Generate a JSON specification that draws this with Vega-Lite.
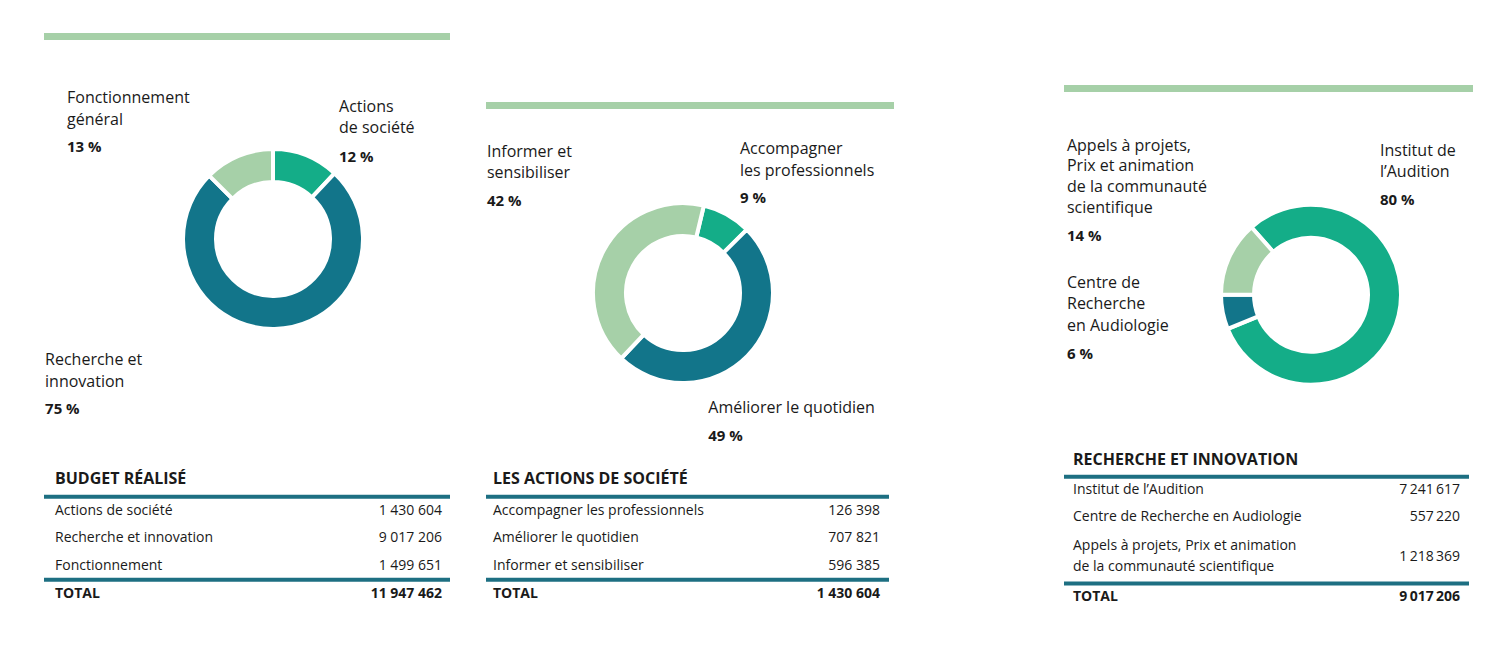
{
  "$schema": "https://vega.github.io/schema/vega-lite/v6.json",
  "background": "#ffffff",
  "padding": {"left": 42, "top": 0, "right": 0, "bottom": 0},
  "config": {"view": {"stroke": null}, "font": "Open Sans", "text": {"font": "Open Sans"}},
  "datasets": {
    "p1": [
      {"name": "Actions de société", "label": "Actions\nde société", "pct": "12 %", "value": 1430604, "display": "1 430 604"},
      {"name": "Recherche et innovation", "label": "Recherche et\ninnovation", "pct": "75 %", "value": 9017206, "display": "9 017 206"},
      {"name": "Fonctionnement", "label": "Fonctionnement\ngénéral", "pct": "13 %", "value": 1499651, "display": "1 499 651"},
      {"name": "TOTAL", "display": "11 947 462"}
    ],
    "p2": [
      {"name": "Accompagner les professionnels", "label": "Accompagner\nles professionnels", "pct": "9 %", "value": 126398, "display": "126 398"},
      {"name": "Améliorer le quotidien", "label": "Améliorer le quotidien", "pct": "49 %", "value": 707821, "display": "707 821"},
      {"name": "Informer et sensibiliser", "label": "Informer et\nsensibiliser", "pct": "42 %", "value": 596385, "display": "596 385"},
      {"name": "TOTAL", "display": "1 430 604"}
    ],
    "p3": [
      {"name": "Institut de l’Audition", "label": "Institut de\nl’Audition", "pct": "80 %", "value": 7241617, "display": "7\u2009241\u2009617"},
      {"name": "Centre de Recherche en Audiologie", "label": "Centre de\nRecherche\nen Audiologie", "pct": "6 %", "value": 557220, "display": "557\u2009220"},
      {"name": "Appels à projets, Prix et animation\nde la communauté scientifique", "label": "Appels à projets,\nPrix et animation\nde la communauté\nscientifique", "pct": "14 %", "value": 1218369, "display": "1\u2009218\u2009369"},
      {"name": "TOTAL", "display": "9\u2009017\u2009206"}
    ]
  },
  "spacing": 168,
  "resolve": {"scale": {"color": "independent", "theta": "independent", "x": "independent", "y": "independent"}, "legend": {"color": "independent"}},
  "hconcat": [
    {
      "spacing": 32,
      "resolve": {"scale": {"color": "independent", "theta": "independent", "x": "independent", "y": "independent"}, "legend": {"color": "independent"}},
      "hconcat": [
        {
          "spacing": 0,
          "resolve": {"scale": {"color": "independent", "theta": "independent", "x": "independent", "y": "independent"}, "legend": {"color": "independent"}},
          "vconcat": [
            {"width": 1, "height": 33, "data": {"values": []}, "mark": "point"},
            {"width": 406, "height": 7, "data": {"values": [{}]}, "mark": {"type": "rect", "color": "#a6d0a8"},
             "encoding": {"x": {"datum": 0, "type": "quantitative", "scale": {"domain": [0, 1]}, "axis": null}, "x2": {"datum": 1},
                          "y": {"datum": 0, "type": "quantitative", "scale": {"domain": [0, 1]}, "axis": null}, "y2": {"datum": 1}}},
            {
              "bounds": "flush", "spacing": 0,
              "resolve": {"scale": {"color": "independent", "theta": "independent"}, "legend": {"color": "independent"}},
              "hconcat": [
                {"width": 79, "height": 1, "data": {"values": []}, "mark": "point"},
                {
                  "width": 300, "height": 398,
                  "data": {"name": "p1"},
                  "transform": [{"filter": "datum.name !== 'TOTAL'"}, {"window": [{"op": "row_number", "as": "ord"}]}, {"stack": "value", "groupby": [], "sort": [{"field": "ord", "order": "ascending"}], "as": ["v0", "v1"]}],
                  "encoding": {"theta": {"field": "v1", "type": "quantitative", "stack": null, "scale": {"range": [0, 6.283185], "nice": false, "zero": true}}},
                  "layer": [
                    {"mark": {"type": "arc", "outerRadius": 90, "innerRadius": 57, "stroke": "#ffffff", "strokeWidth": 4},
                     "encoding": {"theta2": {"field": "v0"}, "color": {"field": "name", "type": "nominal", "scale": {"domain": ["Actions de société", "Recherche et innovation", "Fonctionnement"], "range": ["#14ad88", "#12758a", "#a6d0a8"]}, "legend": null}}},
                    {"transform": [{"filter": "datum.ord === 1"}], "mark": {"type": "text", "radius": 100, "align": "left", "baseline": "alphabetic", "dx": -2.3, "dy": -54, "lineBreak": "\n", "lineHeight": 21.5, "fontSize": 16, "color": "#1a1a1a"}, "encoding": {"text": {"field": "label", "type": "nominal"}}},
                    {"transform": [{"filter": "datum.ord === 1"}], "mark": {"type": "text", "radius": 100, "align": "left", "baseline": "alphabetic", "dx": -2.3, "dy": -4.3, "fontSize": 15, "fontWeight": "bold", "color": "#1a1a1a"}, "encoding": {"text": {"field": "pct", "type": "nominal"}}},
                    {"transform": [{"filter": "datum.ord === 2"}], "mark": {"type": "text", "radius": 100, "align": "left", "baseline": "alphabetic", "dx": -157, "dy": 196.5, "lineBreak": "\n", "lineHeight": 21.5, "fontSize": 16, "color": "#1a1a1a"}, "encoding": {"text": {"field": "label", "type": "nominal"}}},
                    {"transform": [{"filter": "datum.ord === 2"}], "mark": {"type": "text", "radius": 100, "align": "left", "baseline": "alphabetic", "dx": -157, "dy": 245.8, "fontSize": 15, "fontWeight": "bold", "color": "#1a1a1a"}, "encoding": {"text": {"field": "pct", "type": "nominal"}}},
                    {"transform": [{"filter": "datum.ord === 3"}], "mark": {"type": "text", "radius": 100, "align": "left", "baseline": "alphabetic", "dx": -206, "dy": -35.7, "lineBreak": "\n", "lineHeight": 21.5, "fontSize": 16, "color": "#1a1a1a"}, "encoding": {"text": {"field": "label", "type": "nominal"}}},
                    {"transform": [{"filter": "datum.ord === 3"}], "mark": {"type": "text", "radius": 100, "align": "left", "baseline": "alphabetic", "dx": -206, "dy": 13.3, "fontSize": 15, "fontWeight": "bold", "color": "#1a1a1a"}, "encoding": {"text": {"field": "pct", "type": "nominal"}}}
                  ]
                }
              ]
            },
            {"width": 1, "height": 30.95, "data": {"values": []}, "mark": "point"},
            {
              "width": 406, "height": 138.5,
              "layer": [
                {"data": {"values": [{"name": "_title", "title": "BUDGET RÉALISÉ"}]},
                 "mark": {"type": "text", "align": "left", "baseline": "middle", "dx": 11, "dy": -4, "fontSize": 16, "fontWeight": "bold", "color": "#1a1a1a"},
                 "encoding": {"y": {"field": "name", "type": "nominal", "scale": {"domain": ["_title", "Actions de société", "Recherche et innovation", "Fonctionnement", "TOTAL"], "paddingInner": 0, "paddingOuter": 0}, "axis": null},
                              "x": {"datum": 0, "type": "quantitative", "scale": {"domain": [0, 1]}, "axis": null}, "text": {"field": "title", "type": "nominal"}}},
                {"data": {"name": "p1"}, "transform": [{"filter": "datum.name === 'TOTAL' || datum.name === 'Actions de société'"}],
                 "mark": {"type": "rule", "color": "#1d6f82", "strokeWidth": 4},
                 "encoding": {"y": {"field": "name", "type": "nominal", "bandPosition": 0, "scale": {"domain": ["_title", "Actions de société", "Recherche et innovation", "Fonctionnement", "TOTAL"], "paddingInner": 0, "paddingOuter": 0}, "axis": null},
                              "x": {"datum": 0, "type": "quantitative", "scale": {"domain": [0, 1]}, "axis": null}, "x2": {"datum": 1}}},
                {"data": {"name": "p1"}, "transform": [{"filter": "datum.name !== 'TOTAL'"}],
                 "mark": {"type": "text", "align": "left", "baseline": "middle", "dx": 11, "fontSize": 14, "color": "#1a1a1a"},
                 "encoding": {"y": {"field": "name", "type": "nominal", "scale": {"domain": ["_title", "Actions de société", "Recherche et innovation", "Fonctionnement", "TOTAL"], "paddingInner": 0, "paddingOuter": 0}, "axis": null},
                              "x": {"datum": 0, "type": "quantitative", "scale": {"domain": [0, 1]}, "axis": null}, "text": {"field": "name", "type": "nominal"}}},
                {"data": {"name": "p1"}, "transform": [{"filter": "datum.name !== 'TOTAL'"}],
                 "mark": {"type": "text", "align": "right", "baseline": "middle", "dx": -8, "fontSize": 14, "color": "#1a1a1a"},
                 "encoding": {"y": {"field": "name", "type": "nominal", "scale": {"domain": ["_title", "Actions de société", "Recherche et innovation", "Fonctionnement", "TOTAL"], "paddingInner": 0, "paddingOuter": 0}, "axis": null},
                              "x": {"datum": 1, "type": "quantitative", "scale": {"domain": [0, 1]}, "axis": null}, "text": {"field": "display", "type": "nominal"}}},
                {"data": {"name": "p1"}, "transform": [{"filter": "datum.name === 'TOTAL'"}],
                 "mark": {"type": "text", "align": "left", "baseline": "middle", "dx": 11, "fontSize": 14, "fontWeight": "bold", "color": "#1a1a1a"},
                 "encoding": {"y": {"field": "name", "type": "nominal", "scale": {"domain": ["_title", "Actions de société", "Recherche et innovation", "Fonctionnement", "TOTAL"], "paddingInner": 0, "paddingOuter": 0}, "axis": null},
                              "x": {"datum": 0, "type": "quantitative", "scale": {"domain": [0, 1]}, "axis": null}, "text": {"field": "name", "type": "nominal"}}},
                {"data": {"name": "p1"}, "transform": [{"filter": "datum.name === 'TOTAL'"}],
                 "mark": {"type": "text", "align": "right", "baseline": "middle", "dx": -8, "fontSize": 14, "fontWeight": "bold", "color": "#1a1a1a"},
                 "encoding": {"y": {"field": "name", "type": "nominal", "scale": {"domain": ["_title", "Actions de société", "Recherche et innovation", "Fonctionnement", "TOTAL"], "paddingInner": 0, "paddingOuter": 0}, "axis": null},
                              "x": {"datum": 1, "type": "quantitative", "scale": {"domain": [0, 1]}, "axis": null}, "text": {"field": "display", "type": "nominal"}}}
              ]
            }
          ]
        },
        {
          "spacing": 0,
          "resolve": {"scale": {"color": "independent", "theta": "independent", "x": "independent", "y": "independent"}, "legend": {"color": "independent"}},
          "vconcat": [
            {"width": 1, "height": 102, "data": {"values": []}, "mark": "point"},
            {"width": 408, "height": 7, "data": {"values": [{}]}, "mark": {"type": "rect", "color": "#a6d0a8"},
             "encoding": {"x": {"datum": 0, "type": "quantitative", "scale": {"domain": [0, 1]}, "axis": null}, "x2": {"datum": 1},
                          "y": {"datum": 0, "type": "quantitative", "scale": {"domain": [0, 1]}, "axis": null}, "y2": {"datum": 1}}},
            {"width": 1, "height": 8, "data": {"values": []}, "mark": "point"},
            {
              "bounds": "flush", "spacing": 0,
              "resolve": {"scale": {"color": "independent", "theta": "independent"}, "legend": {"color": "independent"}},
              "hconcat": [
                {"width": 47, "height": 1, "data": {"values": []}, "mark": "point"},
                {
                  "width": 300, "height": 352,
                  "data": {"name": "p2"},
                  "transform": [{"filter": "datum.name !== 'TOTAL'"}, {"window": [{"op": "row_number", "as": "ord"}]}, {"stack": "value", "groupby": [], "sort": [{"field": "ord", "order": "ascending"}], "as": ["v0", "v1"]}],
                  "encoding": {"theta": {"field": "v1", "type": "quantitative", "stack": null, "scale": {"range": [0.2339, 6.5171], "nice": false, "zero": true}}},
                  "layer": [
                    {"mark": {"type": "arc", "outerRadius": 90, "innerRadius": 57, "stroke": "#ffffff", "strokeWidth": 4},
                     "encoding": {"theta2": {"field": "v0"}, "color": {"field": "name", "type": "nominal", "scale": {"domain": ["Accompagner les professionnels", "Améliorer le quotidien", "Informer et sensibiliser"], "range": ["#14ad88", "#12758a", "#a6d0a8"]}, "legend": null}}},
                    {"transform": [{"filter": "datum.ord === 1"}], "mark": {"type": "text", "radius": 100, "align": "left", "baseline": "alphabetic", "dx": -14, "dy": -68.5, "lineBreak": "\n", "lineHeight": 21.5, "fontSize": 16, "color": "#1a1a1a"}, "encoding": {"text": {"field": "label", "type": "nominal"}}},
                    {"transform": [{"filter": "datum.ord === 1"}], "mark": {"type": "text", "radius": 100, "align": "left", "baseline": "alphabetic", "dx": -14, "dy": -19.2, "fontSize": 15, "fontWeight": "bold", "color": "#1a1a1a"}, "encoding": {"text": {"field": "pct", "type": "nominal"}}},
                    {"transform": [{"filter": "datum.ord === 2"}], "mark": {"type": "text", "radius": 100, "align": "left", "baseline": "alphabetic", "dx": 93.9, "dy": 46.9, "lineBreak": "\n", "lineHeight": 21.5, "fontSize": 16, "color": "#1a1a1a"}, "encoding": {"text": {"field": "label", "type": "nominal"}}},
                    {"transform": [{"filter": "datum.ord === 2"}], "mark": {"type": "text", "radius": 100, "align": "left", "baseline": "alphabetic", "dx": 93.9, "dy": 74.9, "fontSize": 15, "fontWeight": "bold", "color": "#1a1a1a"}, "encoding": {"text": {"field": "pct", "type": "nominal"}}},
                    {"transform": [{"filter": "datum.ord === 3"}], "mark": {"type": "text", "radius": 100, "align": "left", "baseline": "alphabetic", "dx": -219.2, "dy": -39, "lineBreak": "\n", "lineHeight": 21.5, "fontSize": 16, "color": "#1a1a1a"}, "encoding": {"text": {"field": "label", "type": "nominal"}}},
                    {"transform": [{"filter": "datum.ord === 3"}], "mark": {"type": "text", "radius": 100, "align": "left", "baseline": "alphabetic", "dx": -219.2, "dy": 10.3, "fontSize": 15, "fontWeight": "bold", "color": "#1a1a1a"}, "encoding": {"text": {"field": "pct", "type": "nominal"}}}
                  ]
                }
              ]
            },
            {
              "width": 403, "height": 138.5,
              "layer": [
                {"data": {"values": [{"name": "_title", "title": "LES ACTIONS DE SOCIÉTÉ"}]},
                 "mark": {"type": "text", "align": "left", "baseline": "middle", "dx": 7, "dy": -4, "fontSize": 16, "fontWeight": "bold", "color": "#1a1a1a"},
                 "encoding": {"y": {"field": "name", "type": "nominal", "scale": {"domain": ["_title", "Accompagner les professionnels", "Améliorer le quotidien", "Informer et sensibiliser", "TOTAL"], "paddingInner": 0, "paddingOuter": 0}, "axis": null},
                              "x": {"datum": 0, "type": "quantitative", "scale": {"domain": [0, 1]}, "axis": null}, "text": {"field": "title", "type": "nominal"}}},
                {"data": {"name": "p2"}, "transform": [{"filter": "datum.name === 'TOTAL' || datum.name === 'Accompagner les professionnels'"}],
                 "mark": {"type": "rule", "color": "#1d6f82", "strokeWidth": 4},
                 "encoding": {"y": {"field": "name", "type": "nominal", "bandPosition": 0, "scale": {"domain": ["_title", "Accompagner les professionnels", "Améliorer le quotidien", "Informer et sensibiliser", "TOTAL"], "paddingInner": 0, "paddingOuter": 0}, "axis": null},
                              "x": {"datum": 0, "type": "quantitative", "scale": {"domain": [0, 1]}, "axis": null}, "x2": {"datum": 1}}},
                {"data": {"name": "p2"}, "transform": [{"filter": "datum.name !== 'TOTAL'"}],
                 "mark": {"type": "text", "align": "left", "baseline": "middle", "dx": 7, "fontSize": 14, "color": "#1a1a1a"},
                 "encoding": {"y": {"field": "name", "type": "nominal", "scale": {"domain": ["_title", "Accompagner les professionnels", "Améliorer le quotidien", "Informer et sensibiliser", "TOTAL"], "paddingInner": 0, "paddingOuter": 0}, "axis": null},
                              "x": {"datum": 0, "type": "quantitative", "scale": {"domain": [0, 1]}, "axis": null}, "text": {"field": "name", "type": "nominal"}}},
                {"data": {"name": "p2"}, "transform": [{"filter": "datum.name !== 'TOTAL'"}],
                 "mark": {"type": "text", "align": "right", "baseline": "middle", "dx": -9, "fontSize": 14, "color": "#1a1a1a"},
                 "encoding": {"y": {"field": "name", "type": "nominal", "scale": {"domain": ["_title", "Accompagner les professionnels", "Améliorer le quotidien", "Informer et sensibiliser", "TOTAL"], "paddingInner": 0, "paddingOuter": 0}, "axis": null},
                              "x": {"datum": 1, "type": "quantitative", "scale": {"domain": [0, 1]}, "axis": null}, "text": {"field": "display", "type": "nominal"}}},
                {"data": {"name": "p2"}, "transform": [{"filter": "datum.name === 'TOTAL'"}],
                 "mark": {"type": "text", "align": "left", "baseline": "middle", "dx": 7, "fontSize": 14, "fontWeight": "bold", "color": "#1a1a1a"},
                 "encoding": {"y": {"field": "name", "type": "nominal", "scale": {"domain": ["_title", "Accompagner les professionnels", "Améliorer le quotidien", "Informer et sensibiliser", "TOTAL"], "paddingInner": 0, "paddingOuter": 0}, "axis": null},
                              "x": {"datum": 0, "type": "quantitative", "scale": {"domain": [0, 1]}, "axis": null}, "text": {"field": "name", "type": "nominal"}}},
                {"data": {"name": "p2"}, "transform": [{"filter": "datum.name === 'TOTAL'"}],
                 "mark": {"type": "text", "align": "right", "baseline": "middle", "dx": -9, "fontSize": 14, "fontWeight": "bold", "color": "#1a1a1a"},
                 "encoding": {"y": {"field": "name", "type": "nominal", "scale": {"domain": ["_title", "Accompagner les professionnels", "Améliorer le quotidien", "Informer et sensibiliser", "TOTAL"], "paddingInner": 0, "paddingOuter": 0}, "axis": null},
                              "x": {"datum": 1, "type": "quantitative", "scale": {"domain": [0, 1]}, "axis": null}, "text": {"field": "display", "type": "nominal"}}}
              ]
            }
          ]
        }
      ]
    },
    {
      "spacing": 0,
      "resolve": {"scale": {"color": "independent", "theta": "independent", "x": "independent", "y": "independent"}, "legend": {"color": "independent"}},
      "vconcat": [
        {"width": 1, "height": 85, "data": {"values": []}, "mark": "point"},
        {"width": 409, "height": 7, "data": {"values": [{}]}, "mark": {"type": "rect", "color": "#a6d0a8"},
         "encoding": {"x": {"datum": 0, "type": "quantitative", "scale": {"domain": [0, 1]}, "axis": null}, "x2": {"datum": 1},
                      "y": {"datum": 0, "type": "quantitative", "scale": {"domain": [0, 1]}, "axis": null}, "y2": {"datum": 1}}},
        {"width": 1, "height": 45, "data": {"values": []}, "mark": "point"},
        {
          "bounds": "flush", "spacing": 0,
          "resolve": {"scale": {"color": "independent", "theta": "independent"}, "legend": {"color": "independent"}},
          "hconcat": [
            {"width": 97, "height": 1, "data": {"values": []}, "mark": "point"},
            {
              "width": 300, "height": 309.5,
              "data": {"name": "p3"},
              "transform": [{"filter": "datum.name !== 'TOTAL'"}, {"window": [{"op": "row_number", "as": "ord"}]}, {"stack": "value", "groupby": [], "sort": [{"field": "ord", "order": "ascending"}], "as": ["v0", "v1"]}],
              "encoding": {"theta": {"field": "v1", "type": "quantitative", "stack": null, "scale": {"range": [-0.7226, 5.5606], "nice": false, "zero": true}}},
              "layer": [
                {"mark": {"type": "arc", "outerRadius": 90, "innerRadius": 57, "stroke": "#ffffff", "strokeWidth": 4},
                 "encoding": {"theta2": {"field": "v0"}, "color": {"field": "name", "type": "nominal", "scale": {"domain": ["Institut de l’Audition", "Centre de Recherche en Audiologie", "Appels à projets, Prix et animation\nde la communauté scientifique"], "range": ["#14ad88", "#12758a", "#a6d0a8"]}, "legend": null}}},
                {"transform": [{"filter": "datum.ord === 1"}], "mark": {"type": "text", "radius": 100, "align": "left", "baseline": "alphabetic", "dx": 161.5, "dy": -176.95, "lineBreak": "\n", "lineHeight": 21.5, "fontSize": 16, "color": "#1a1a1a"}, "encoding": {"text": {"field": "label", "type": "nominal"}}},
                {"transform": [{"filter": "datum.ord === 1"}], "mark": {"type": "text", "radius": 100, "align": "left", "baseline": "alphabetic", "dx": 161.5, "dy": -127.95, "fontSize": 15, "fontWeight": "bold", "color": "#1a1a1a"}, "encoding": {"text": {"field": "pct", "type": "nominal"}}},
                {"transform": [{"filter": "datum.ord === 2"}], "mark": {"type": "text", "radius": 100, "align": "left", "baseline": "alphabetic", "dx": -144, "dy": -7.3, "lineBreak": "\n", "lineHeight": 21.5, "fontSize": 16, "color": "#1a1a1a"}, "encoding": {"text": {"field": "label", "type": "nominal"}}},
                {"transform": [{"filter": "datum.ord === 2"}], "mark": {"type": "text", "radius": 100, "align": "left", "baseline": "alphabetic", "dx": -144, "dy": 64.3, "fontSize": 15, "fontWeight": "bold", "color": "#1a1a1a"}, "encoding": {"text": {"field": "pct", "type": "nominal"}}},
                {"transform": [{"filter": "datum.ord === 3"}], "mark": {"type": "text", "radius": 100, "align": "left", "baseline": "alphabetic", "dx": -177.9, "dy": -69, "lineBreak": "\n", "lineHeight": 20.6, "fontSize": 16, "color": "#1a1a1a"}, "encoding": {"text": {"field": "label", "type": "nominal"}}},
                {"transform": [{"filter": "datum.ord === 3"}], "mark": {"type": "text", "radius": 100, "align": "left", "baseline": "alphabetic", "dx": -177.9, "dy": 21, "fontSize": 15, "fontWeight": "bold", "color": "#1a1a1a"}, "encoding": {"text": {"field": "pct", "type": "nominal"}}}
              ]
            }
          ]
        },
        {
          "width": 405, "height": 160.2,
          "layer": [
            {"data": {"values": [{"name": "_title", "title": "RECHERCHE ET INNOVATION"}]},
             "mark": {"type": "text", "align": "left", "baseline": "middle", "dx": 9, "dy": -3, "fontSize": 16, "fontWeight": "bold", "color": "#1a1a1a"},
             "encoding": {"y": {"field": "name", "type": "nominal", "scale": {"domain": ["_title", "Institut de l’Audition", "Centre de Recherche en Audiologie", "Appels à projets, Prix et animation\nde la communauté scientifique", "spacer", "TOTAL"], "paddingInner": 0, "paddingOuter": 0}, "axis": null},
                          "x": {"datum": 0, "type": "quantitative", "scale": {"domain": [0, 1]}, "axis": null}, "text": {"field": "title", "type": "nominal"}}},
            {"data": {"name": "p3"}, "transform": [{"filter": "datum.name === 'TOTAL' || datum.name === 'Institut de l’Audition'"}],
             "mark": {"type": "rule", "color": "#1d6f82", "strokeWidth": 4},
             "encoding": {"y": {"field": "name", "type": "nominal", "bandPosition": 0, "scale": {"domain": ["_title", "Institut de l’Audition", "Centre de Recherche en Audiologie", "Appels à projets, Prix et animation\nde la communauté scientifique", "spacer", "TOTAL"], "paddingInner": 0, "paddingOuter": 0}, "axis": null},
                          "x": {"datum": 0, "type": "quantitative", "scale": {"domain": [0, 1]}, "axis": null}, "x2": {"datum": 1}}},
            {"data": {"name": "p3"}, "transform": [{"filter": "datum.name !== 'TOTAL' && indexof(datum.name, '\\n') < 0"}],
             "mark": {"type": "text", "align": "left", "baseline": "middle", "dx": 9, "fontSize": 14, "color": "#1a1a1a"},
             "encoding": {"y": {"field": "name", "type": "nominal", "scale": {"domain": ["_title", "Institut de l’Audition", "Centre de Recherche en Audiologie", "Appels à projets, Prix et animation\nde la communauté scientifique", "spacer", "TOTAL"], "paddingInner": 0, "paddingOuter": 0}, "axis": null},
                          "x": {"datum": 0, "type": "quantitative", "scale": {"domain": [0, 1]}, "axis": null}, "text": {"field": "name", "type": "nominal"}}},
            {"data": {"name": "p3"}, "transform": [{"filter": "datum.name !== 'TOTAL' && indexof(datum.name, '\\n') < 0"}],
             "mark": {"type": "text", "align": "right", "baseline": "middle", "dx": -9, "fontSize": 14, "color": "#1a1a1a"},
             "encoding": {"y": {"field": "name", "type": "nominal", "scale": {"domain": ["_title", "Institut de l’Audition", "Centre de Recherche en Audiologie", "Appels à projets, Prix et animation\nde la communauté scientifique", "spacer", "TOTAL"], "paddingInner": 0, "paddingOuter": 0}, "axis": null},
                          "x": {"datum": 1, "type": "quantitative", "scale": {"domain": [0, 1]}, "axis": null}, "text": {"field": "display", "type": "nominal"}}},
            {"data": {"name": "p3"}, "transform": [{"filter": "indexof(datum.name, '\\n') >= 0"}],
             "mark": {"type": "text", "align": "left", "baseline": "middle", "dx": 9, "dy": -10.5, "fontSize": 14, "lineBreak": "\n", "lineHeight": 21, "color": "#1a1a1a"},
             "encoding": {"y": {"field": "name", "type": "nominal", "bandPosition": 1, "scale": {"domain": ["_title", "Institut de l’Audition", "Centre de Recherche en Audiologie", "Appels à projets, Prix et animation\nde la communauté scientifique", "spacer", "TOTAL"], "paddingInner": 0, "paddingOuter": 0}, "axis": null},
                          "x": {"datum": 0, "type": "quantitative", "scale": {"domain": [0, 1]}, "axis": null}, "text": {"field": "name", "type": "nominal"}}},
            {"data": {"name": "p3"}, "transform": [{"filter": "indexof(datum.name, '\\n') >= 0"}],
             "mark": {"type": "text", "align": "right", "baseline": "middle", "dx": -9, "fontSize": 14, "color": "#1a1a1a"},
             "encoding": {"y": {"field": "name", "type": "nominal", "bandPosition": 1, "scale": {"domain": ["_title", "Institut de l’Audition", "Centre de Recherche en Audiologie", "Appels à projets, Prix et animation\nde la communauté scientifique", "spacer", "TOTAL"], "paddingInner": 0, "paddingOuter": 0}, "axis": null},
                          "x": {"datum": 1, "type": "quantitative", "scale": {"domain": [0, 1]}, "axis": null}, "text": {"field": "display", "type": "nominal"}}},
            {"data": {"name": "p3"}, "transform": [{"filter": "datum.name === 'TOTAL'"}],
             "mark": {"type": "text", "align": "left", "baseline": "middle", "dx": 9, "fontSize": 14, "fontWeight": "bold", "color": "#1a1a1a"},
             "encoding": {"y": {"field": "name", "type": "nominal", "scale": {"domain": ["_title", "Institut de l’Audition", "Centre de Recherche en Audiologie", "Appels à projets, Prix et animation\nde la communauté scientifique", "spacer", "TOTAL"], "paddingInner": 0, "paddingOuter": 0}, "axis": null},
                          "x": {"datum": 0, "type": "quantitative", "scale": {"domain": [0, 1]}, "axis": null}, "text": {"field": "name", "type": "nominal"}}},
            {"data": {"name": "p3"}, "transform": [{"filter": "datum.name === 'TOTAL'"}],
             "mark": {"type": "text", "align": "right", "baseline": "middle", "dx": -9, "fontSize": 14, "fontWeight": "bold", "color": "#1a1a1a"},
             "encoding": {"y": {"field": "name", "type": "nominal", "scale": {"domain": ["_title", "Institut de l’Audition", "Centre de Recherche en Audiologie", "Appels à projets, Prix et animation\nde la communauté scientifique", "spacer", "TOTAL"], "paddingInner": 0, "paddingOuter": 0}, "axis": null},
                          "x": {"datum": 1, "type": "quantitative", "scale": {"domain": [0, 1]}, "axis": null}, "text": {"field": "display", "type": "nominal"}}}
          ]
        }
      ]
    }
  ]
}
